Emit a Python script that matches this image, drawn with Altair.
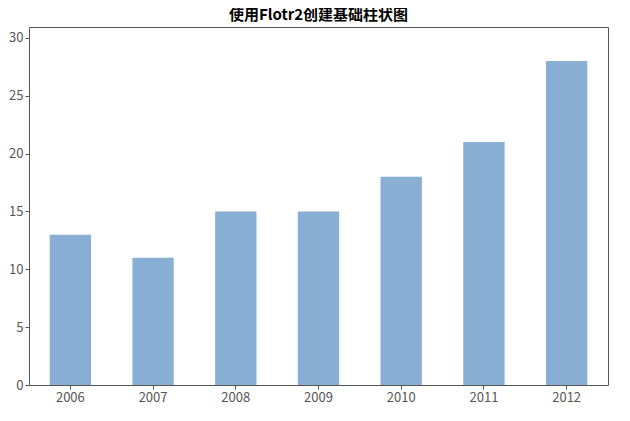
import altair as alt
import pandas as pd

years = ["2006", "2007", "2008", "2009", "2010", "2011", "2012"]
values = [13, 11, 15, 15, 18, 21, 28]

df = pd.DataFrame({"year": years, "value": values})

chart = alt.Chart(df).mark_bar(color="#8aafd4").encode(
    x=alt.X("year:N", title=None,
            scale=alt.Scale(paddingInner=0.5, paddingOuter=0.25),
            axis=alt.Axis(labelAngle=0, labelColor="#555", labelFontSize=13,
                          domain=False, tickColor="#555", tickSize=4,
                          labelFont="Noto Sans CJK SC")),
    y=alt.Y("value:Q", title=None,
            scale=alt.Scale(domain=[0, 30.95], nice=False),
            axis=alt.Axis(values=[0, 5, 10, 15, 20, 25, 30], grid=False,
                          labelColor="#555", labelFontSize=13, domain=False,
                          tickColor="#555", tickSize=4,
                          labelFont="Noto Sans CJK SC")),
).properties(
    width=579, height=358,
    padding={"left": 0, "top": 0, "right": 5, "bottom": 5},
    background="white",
    view=alt.ViewBackground(stroke="#555555", strokeWidth=1),
    title=alt.TitleParams("使用Flotr2创建基础柱状图", fontSize=15,
                          font="Noto Sans CJK SC", fontWeight="bold",
                          color="#000", offset=4),
)

chart.save("out.html", embed_options={"renderer": "svg", "actions": False})
